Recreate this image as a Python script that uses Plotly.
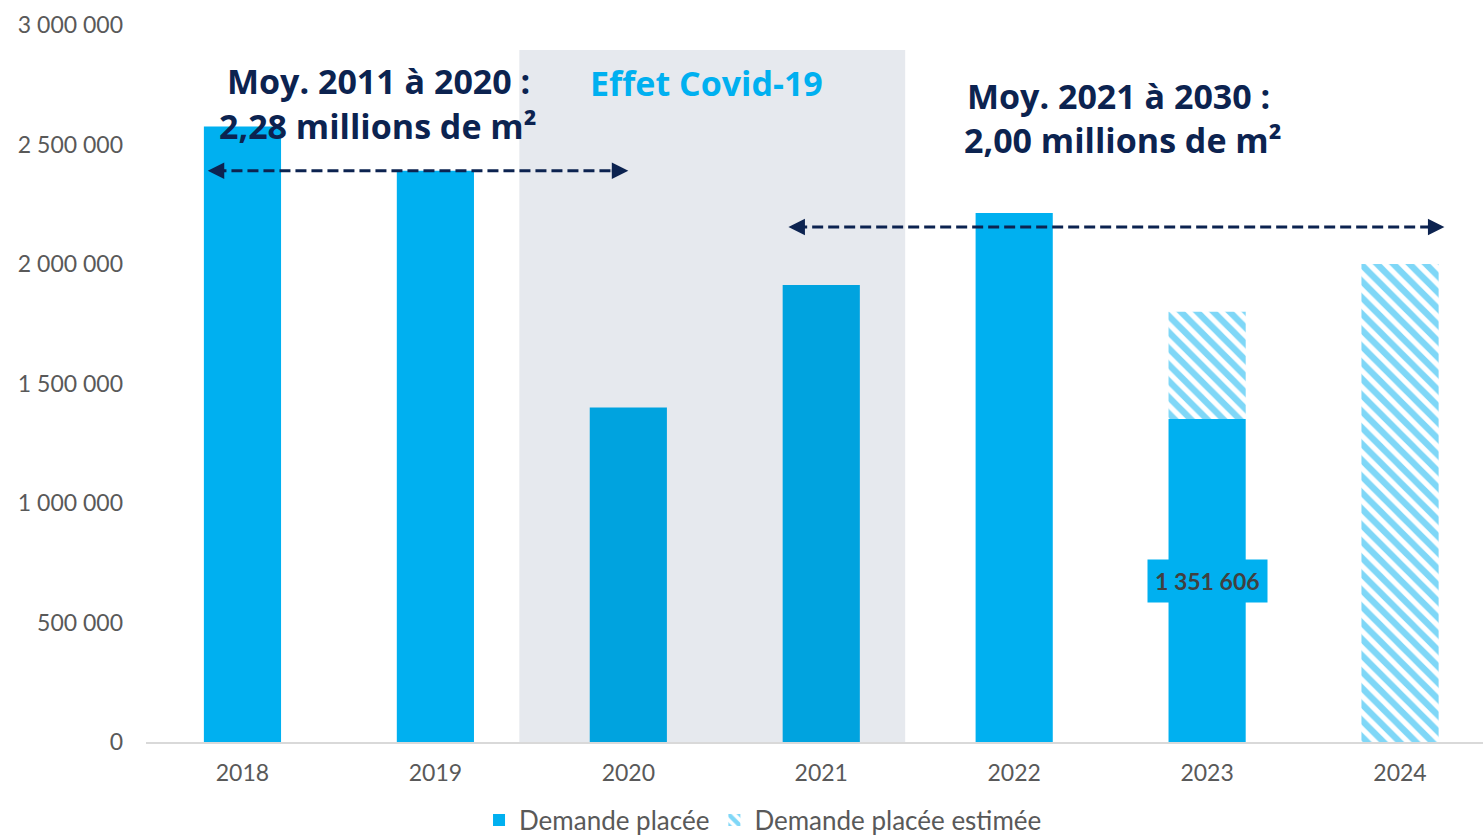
import plotly.graph_objects as go

# Données : demande placée annuelle (m²)
years = ["2018", "2019", "2020", "2021", "2022", "2023", "2024"]
demande_placee = [2575000, 2390000, 1400000, 1912000, 2213000, 1351606, None]
demande_estimee_total = [None, None, None, None, None, 1800000, 2000000]
y_ticks = [0, 500000, 1000000, 1500000, 2000000, 2500000, 3000000]

BLUE = "#00B0F0"
BLUE_COVID = "#00A3DF"
NAVY = "#0C2350"
GREY_TXT = "#595959"
FONT = "Lato"
BOLD_FONT = "Open Sans"


def fmt_fr(v):
    return f"{v:,.0f}".replace(",", " ")


covid_years = {"2020", "2021"}
bar_colors = [BLUE_COVID if y in covid_years else BLUE for y in years]

# Part estimée = total estimé moins la demande déjà placée
estimee_part = []
for placed, total in zip(demande_placee, demande_estimee_total):
    if total is None:
        estimee_part.append(None)
    else:
        estimee_part.append(total - (placed or 0))

fig = go.Figure()
fig.add_trace(go.Bar(
    x=years, y=demande_placee, name="Demande placée",
    marker=dict(color=bar_colors, line=dict(width=0)),
    width=0.4,
))
fig.add_trace(go.Bar(
    x=years, y=estimee_part, name="Demande placée estimée",
    marker=dict(color="white", line=dict(width=0),
                pattern=dict(shape="\\", fgcolor=BLUE, bgcolor="white",
                             size=11.5, solidity=0.55)),
    width=0.4,
))

# Période Covid en fond gris
fig.add_shape(type="rect", xref="x", yref="y", x0=1.435, x1=3.435, y0=0, y1=2895000,
              fillcolor="#E6E9EE", line=dict(width=0), layer="below")


def double_arrow(x0, x1, y):
    fig.add_shape(type="line", xref="x", yref="y", x0=x0 + 0.04, x1=x1 - 0.04, y0=y, y1=y,
                  line=dict(color=NAVY, width=3, dash="11px,5px"))
    for xh, ax in ((x0, 18), (x1, -18)):
        fig.add_annotation(x=xh, y=y, xref="x", yref="y", ax=ax, ay=0, text="",
                           showarrow=True, arrowhead=2, arrowsize=1.1, arrowwidth=3,
                           arrowcolor=NAVY)


double_arrow(-0.18, 2.0, 2390000)
double_arrow(2.83, 6.23, 2155000)

title_font = dict(family=BOLD_FONT, size=34, color=NAVY)
fig.add_annotation(x=0.705, y=2765000, xref="x", yref="y", text="<b>Moy. 2011 à 2020 :</b>",
                   showarrow=False, font=title_font)
fig.add_annotation(x=0.705, y=2577000, xref="x", yref="y", text="<b>2,28 millions de m²</b>",
                   showarrow=False, font=title_font)
fig.add_annotation(x=2.404, y=2757000, xref="x", yref="y", text="<b>Effet Covid-19</b>",
                   showarrow=False, font=dict(family=BOLD_FONT, size=34, color=BLUE))
fig.add_annotation(x=4.54, y=2703000, xref="x", yref="y", text="<b>Moy. 2021 à 2030 :</b>",
                   showarrow=False, font=title_font)
fig.add_annotation(x=4.565, y=2519000, xref="x", yref="y", text="<b>2,00 millions de m²</b>",
                   showarrow=False, font=title_font)

# Étiquette de valeur 2023 (index de catégorie 5)
fig.add_annotation(x=years.index("2023"), y=674000, xref="x", yref="y",
                   text=f"<b>{fmt_fr(demande_placee[5])}</b>", showarrow=False,
                   bgcolor=BLUE, borderpad=7,
                   font=dict(family=FONT, size=23, color="#404040"))

fig.update_layout(
    width=1483, height=838,
    margin=dict(l=146, r=0, t=25, b=96, autoexpand=False),
    paper_bgcolor="white", plot_bgcolor="white",
    barmode="relative",
    font=dict(family=FONT, color=GREY_TXT, size=22),
    showlegend=True,
    legend=dict(orientation="h", x=0.4615, xanchor="center", y=-0.109, yanchor="middle",
                font=dict(family=FONT, size=26, color=GREY_TXT), itemwidth=30,
                traceorder="normal"),
    xaxis=dict(type="category", range=[-0.5, 6.43], showgrid=False,
               showline=True, linecolor="#D9D9D9", linewidth=2, ticks="",
               tickfont=dict(family=FONT, size=23, color=GREY_TXT), ticklabelstandoff=9),
    yaxis=dict(range=[0, 3000000], showgrid=False, zeroline=False, showline=False,
               tickvals=y_ticks, ticktext=[fmt_fr(v) for v in y_ticks],
               tickfont=dict(family=FONT, size=23, color=GREY_TXT), ticklabelstandoff=22),
)

fig.write_html("out.html")
